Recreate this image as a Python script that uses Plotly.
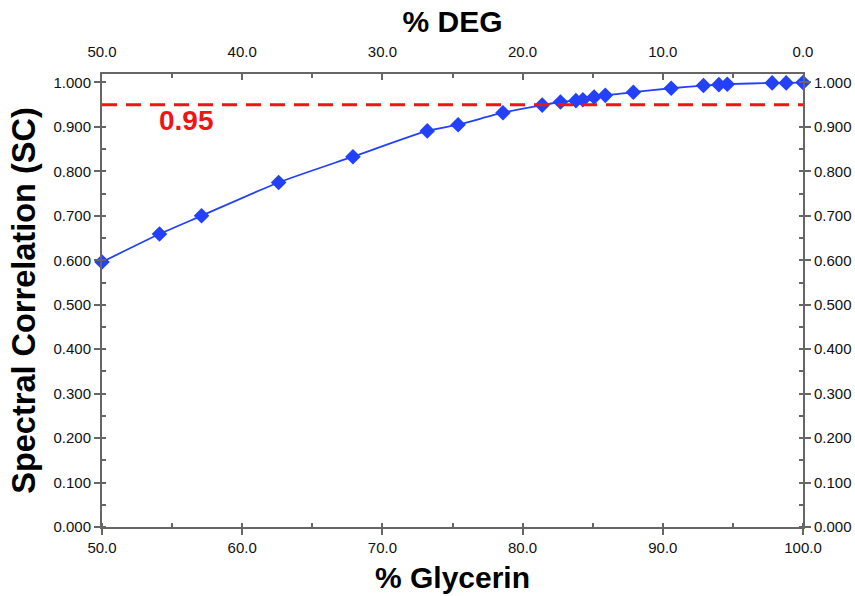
import plotly.graph_objects as go

# Glycerin content (%) and measured spectral correlation
glycerin = [50.0, 54.1, 57.1, 62.6, 67.9, 73.2, 75.4, 78.6, 81.4, 82.7, 83.8,
            84.3, 85.1, 85.9, 87.9, 90.6, 92.9, 94.0, 94.6, 97.8, 98.8, 100.0]
sc = [0.596, 0.659, 0.700, 0.775, 0.833, 0.891, 0.905, 0.932, 0.949, 0.956, 0.959,
      0.961, 0.967, 0.971, 0.978, 0.987, 0.993, 0.995, 0.996, 0.999, 0.999, 1.000]

threshold = 0.95
x_range = [50, 100]
deg_range = [50, 0]
y_range = [0, 1.019]

blue = "rgb(35,65,250)"
red = "rgb(240,20,20)"
axis_grey = "#666666"
font_family = "Liberation Sans, Arial, sans-serif"

fig = go.Figure()

fig.add_trace(go.Scatter(
    x=glycerin, y=sc, mode="lines+markers",
    line=dict(color=blue, width=1.8, shape="spline", smoothing=0.6),
    marker=dict(symbol="diamond", size=12, color=blue),
    cliponaxis=False, showlegend=False, hoverinfo="x+y",
))

# Threshold line across the plot
fig.add_shape(type="line", xref="paper", x0=0, x1=1, yref="y", y0=threshold, y1=threshold,
              line=dict(color=red, width=3, dash="15px,9px"))

fig.add_annotation(x=56.0, y=0.915, xref="x", yref="y", text=f"<b>{threshold:.2f}</b>",
                   showarrow=False, font=dict(family=font_family, size=28, color=red))

# Invisible trace so the secondary (DEG / right) axes are drawn
fig.add_trace(go.Scatter(x=[100 - g for g in glycerin], y=sc, xaxis="x2", yaxis="y2",
                         mode="markers", marker=dict(opacity=0), showlegend=False,
                         hoverinfo="skip"))

common_axis = dict(showline=True, linecolor=axis_grey, linewidth=2, showgrid=False,
                   zeroline=False, tickcolor=axis_grey, tickwidth=1.5, automargin=False,
                   tickfont=dict(family=font_family, size=15, color="#111"))
title_font = dict(family=font_family, size=30, color="black")

fig.update_layout(
    width=855, height=596,
    margin=dict(l=102, r=52, t=74, b=69),
    plot_bgcolor="white", paper_bgcolor="white",
    xaxis=dict(range=x_range, dtick=10, tickformat=".1f", ticks="outside", ticklen=6,
               minor=dict(dtick=5, ticks="inside", ticklen=4, tickcolor=axis_grey),
               title=dict(text="<b>% Glycerin</b>", standoff=12, font=title_font),
               **common_axis),
    xaxis2=dict(range=deg_range, overlaying="x", side="top", dtick=10, tickformat=".1f",
                ticks="inside", ticklen=6, ticklabelstandoff=9,
                minor=dict(dtick=5, ticks="inside", ticklen=4, tickcolor=axis_grey),
                title=dict(text="<b>% DEG</b>", standoff=2, font=title_font),
                **common_axis),
    yaxis=dict(range=y_range, tick0=0, dtick=0.1, tickformat=".3f", ticks="outside", ticklen=6,
               minor=dict(tick0=0, dtick=0.05, ticks="inside", ticklen=4, tickcolor=axis_grey),
               title=dict(text="<b>Spectral Correlation (SC)</b>", standoff=8,
                          font=dict(family=font_family, size=32.5, color="black")),
               **common_axis),
    yaxis2=dict(range=y_range, overlaying="y", side="right", tick0=0, dtick=0.1,
                tickformat=".3f", ticks="outside", ticklen=6,
                minor=dict(tick0=0, dtick=0.05, ticks="inside", ticklen=4, tickcolor=axis_grey),
                **common_axis),
)

fig.write_html("out.html")
